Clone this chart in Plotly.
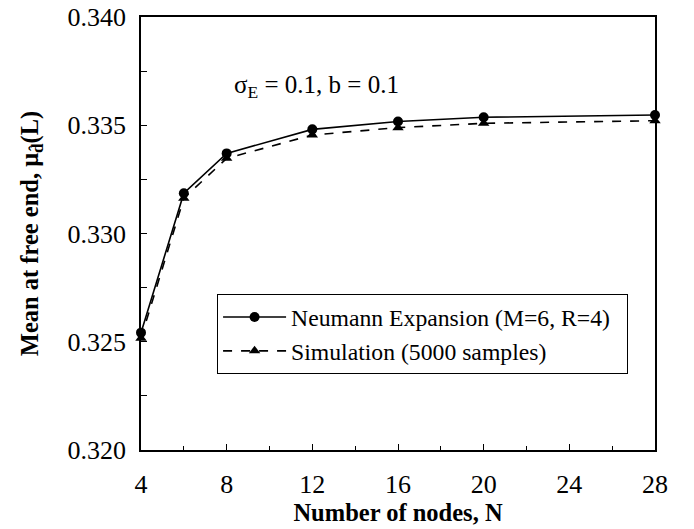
import plotly.graph_objects as go

nodes = [4, 6, 8, 12, 16, 20, 28]
neumann = [0.32542, 0.33186, 0.33370, 0.33481, 0.33517, 0.33537, 0.33547]
simulation = [0.32516, 0.33163, 0.33347, 0.33455, 0.33489, 0.33509, 0.33521]

x_ticks = [4, 8, 12, 16, 20, 24, 28]
y_ticks = [0.320, 0.325, 0.330, 0.335, 0.340]

FONT = "Liberation Serif, Times New Roman, serif"

fig = go.Figure()
fig.add_trace(go.Scatter(
    x=nodes, y=neumann, mode="lines+markers",
    name="Neumann Expansion (M=6, R=4)\u00a0\u00a0",
    line=dict(color="black", width=1.6),
    marker=dict(symbol="circle", size=10, color="black"),
    cliponaxis=False,
))
fig.add_trace(go.Scatter(
    x=nodes, y=simulation, mode="lines+markers",
    name="Simulation (5000 samples)",
    line=dict(color="black", width=1.6, dash="dash"),
    marker=dict(symbol="triangle-up", size=10, color="black"),
    cliponaxis=False,
))

fig.add_annotation(
    x=12.2, y=0.33677, xref="x", yref="y",
    text="σ<sub>E</sub> = 0.1, b = 0.1", showarrow=False,
    font=dict(family=FONT, size=25, color="black"),
)

fig.update_layout(
    width=694, height=529,
    margin=dict(l=141, r=39, t=17, b=79),
    paper_bgcolor="white", plot_bgcolor="white",
    font=dict(family=FONT, color="black", size=22),
    showlegend=True,
    legend=dict(
        x=0.148, y=0.36, xanchor="left", yanchor="top",
        bordercolor="black", borderwidth=1, bgcolor="white",
        font=dict(family=FONT, size=23.7, color="black"),
        tracegroupgap=0, itemwidth=63,
    ),
)
fig.update_xaxes(
    range=[4, 28], tickvals=x_ticks, ticktext=[str(v) for v in x_ticks],
    ticks="inside", ticklen=6, tickcolor="black",
    minor=dict(dtick=2, tick0=4, ticks="inside", ticklen=4, tickcolor="black"),
    showline=True, linecolor="black", linewidth=1.5, mirror=True,
    showgrid=False, zeroline=False, automargin=False,
    tickfont=dict(family=FONT, size=26), ticklabelstandoff=10,
    title=dict(text="<b>Number of nodes, N</b>", font=dict(family=FONT, size=24.5), standoff=5),
)
fig.update_yaxes(
    range=[0.320, 0.340], tickvals=y_ticks, ticktext=[f"{v:.3f}" for v in y_ticks],
    ticks="inside", ticklen=6, tickcolor="black",
    minor=dict(dtick=0.0025, tick0=0.320, ticks="inside", ticklen=6, tickcolor="black"),
    showline=True, linecolor="black", linewidth=1.5, mirror=True,
    showgrid=False, zeroline=False, automargin=False,
    tickfont=dict(family=FONT, size=26), ticklabelstandoff=8,
    title=dict(text="<b>Mean at free end, μ<sub>d̂</sub>(L)</b>", font=dict(family=FONT, size=24.5), standoff=22),
)

fig.write_html("out.html", config={"displayModeBar": False},
               post_script="document.body.style.margin='0';")
